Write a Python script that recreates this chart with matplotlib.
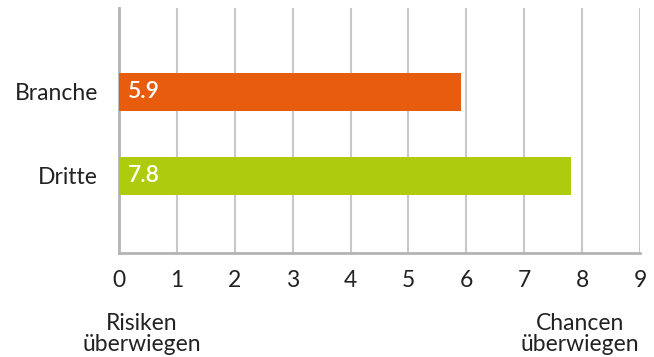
import matplotlib.pyplot as plt

categories = ["Dritte", "Branche"]
values = [7.8, 5.9]
colors = ["#aecb0e", "#e85c0e"]
ticks = list(range(0, 10))

plt.rcParams["font.family"] = ["Lato", "DejaVu Sans"]

fig = plt.figure(figsize=(6.54, 3.57), dpi=100)
ax = fig.add_axes([0.182, 0.2913, 0.7966, 0.6863])

pos = list(range(len(categories)))
bars = ax.barh(pos, values, height=0.452, color=colors, zorder=3)

for b, v in zip(bars, values):
    ax.text(0.15, b.get_y() + b.get_height() / 2, f"{v}", color="white",
            fontsize=16.5, fontweight="semibold", va="center", ha="left", zorder=4)

ax.set_xlim(0, 9)
ax.set_ylim(-0.917, 2.0)
ax.set_xticks(ticks)
ax.set_yticks(pos)
ax.set_yticklabels(categories)
ax.tick_params(axis="both", length=0, labelsize=16.5, colors="#222222")
ax.tick_params(axis="x", pad=12)
ax.tick_params(axis="y", pad=15)

ax.grid(axis="x", color="#c8c8c8", linewidth=1.5, zorder=0)
for s in ["top", "right"]:
    ax.spines[s].set_visible(False)
for s in ["left", "bottom"]:
    ax.spines[s].set_color("#b4b4b4")
    ax.spines[s].set_linewidth(2)

fig.text(142 / 654, 1 - 334 / 357, "Risiken\nüberwiegen", ha="center", va="center",
         fontsize=16.5, color="#222222", linespacing=0.95)
fig.text(580 / 654, 1 - 334 / 357, "Chancen\nüberwiegen", ha="center", va="center",
         fontsize=16.5, color="#222222", linespacing=0.95)

fig.savefig("out.png", dpi=100)
